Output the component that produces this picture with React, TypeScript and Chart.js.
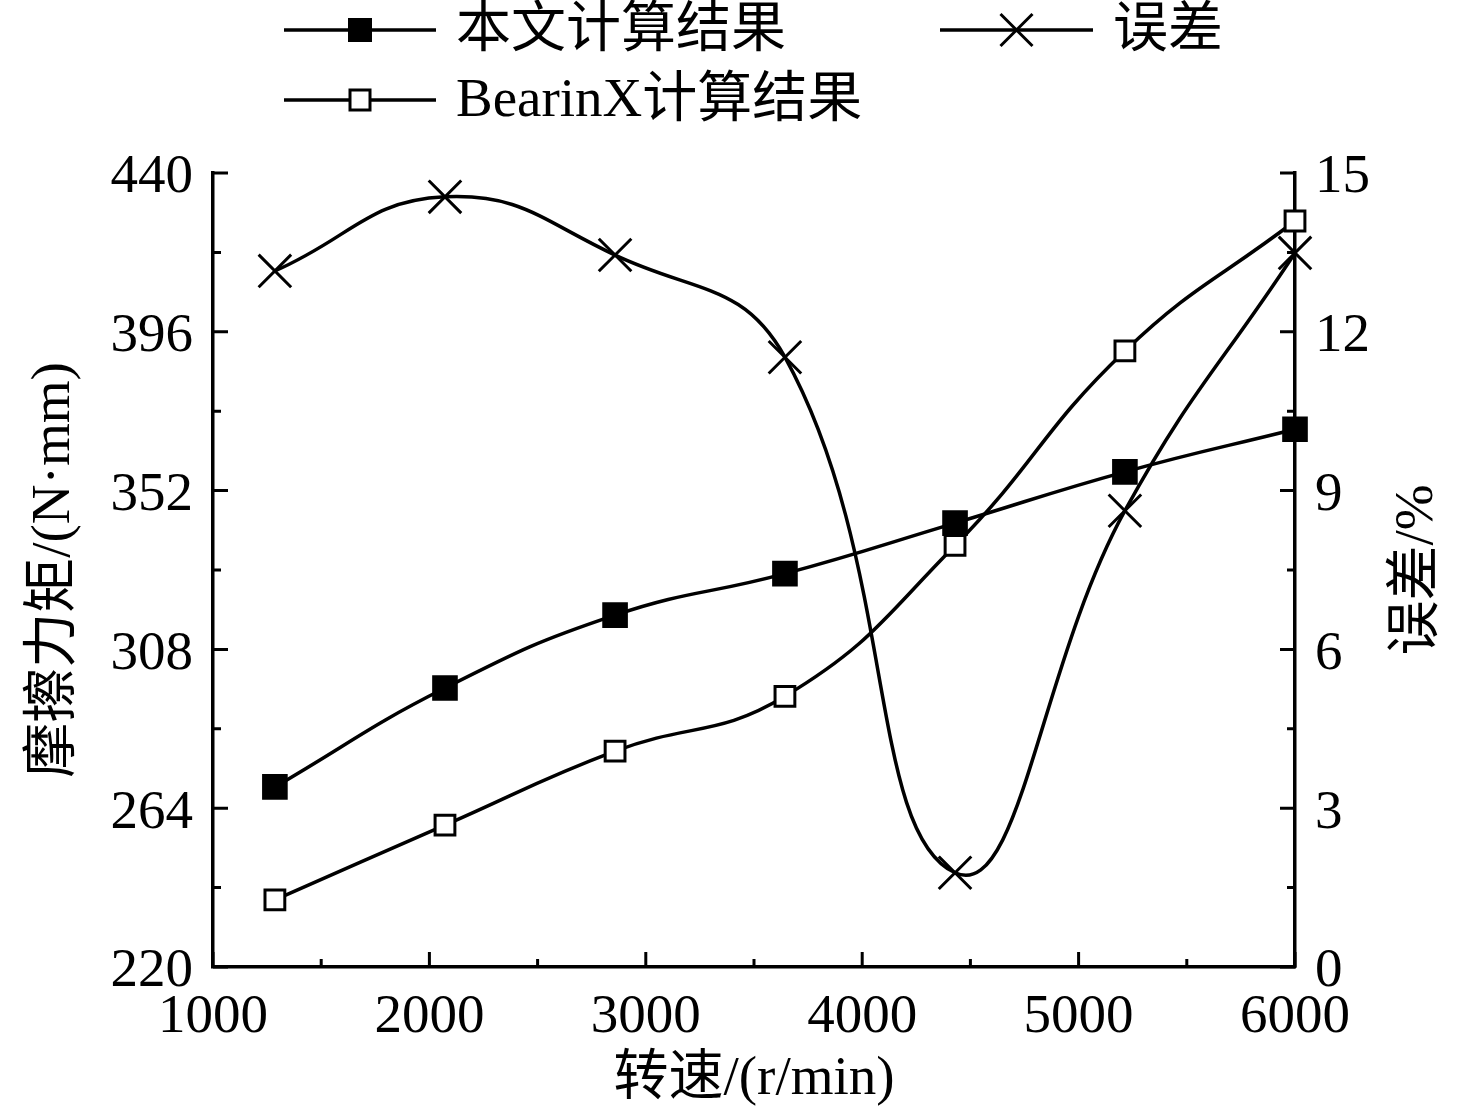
import { useEffect, useRef } from "react"
import { Chart, registerables } from "chart.js"

Chart.register(...registerables)

// rotating speed, r/min
const speeds = [1286, 2072, 2858, 3643, 4429, 5214, 6000]
// friction torque, N·mm
const ourTorque = [269.9, 297.3, 317.5, 329.0, 343.0, 357.2, 369.0]
const bearinxTorque = [238.6, 259.3, 279.8, 295.0, 336.8, 390.7, 426.7]
// relative error, %
const errorPct = [13.15, 14.55, 13.45, 11.52, 1.78, 8.62, 13.49]

const xTickValues = [1000, 2000, 3000, 4000, 5000, 6000]
const leftTickValues = [220, 264, 308, 352, 396, 440]
const rightTickValues = [0, 3, 6, 9, 12, 15]

const seriesNames = ["本文计算结果", "误差", "BearinX计算结果"]

const FONT_FAMILY = '"Liberation Serif", "Times New Roman", "Noto Sans CJK SC", serif'
const FONT_SIZE = 55
const LINE_W = 3.5

const pts = (ys: number[]) => speeds.map((x, i) => ({ x, y: ys[i] }))

function drawMarker(ctx: CanvasRenderingContext2D, kind: string, x: number, y: number) {
  ctx.save()
  ctx.lineWidth = 3
  ctx.strokeStyle = "#000"
  if (kind === "filled") {
    ctx.fillStyle = "#000"
    ctx.fillRect(x - 12, y - 12, 24, 24)
  } else if (kind === "open") {
    ctx.fillStyle = "#fff"
    ctx.fillRect(x - 10, y - 10, 20, 20)
    ctx.strokeRect(x - 10, y - 10, 20, 20)
  } else {
    ctx.beginPath()
    ctx.moveTo(x - 16, y - 16)
    ctx.lineTo(x + 16, y + 16)
    ctx.moveTo(x - 16, y + 16)
    ctx.lineTo(x + 16, y - 16)
    ctx.stroke()
  }
  ctx.restore()
}

// legend at the top: line + marker + label
const legendLayout = [
  { name: seriesNames[0], marker: "filled", x0: 284, x1: 436, y: 30 },
  { name: seriesNames[1], marker: "cross", x0: 940, x1: 1093, y: 30 },
  { name: seriesNames[2], marker: "open", x0: 284, x1: 436, y: 100 },
]

const topLegend = {
  id: "topLegend",
  afterDraw(chart: Chart) {
    const ctx = chart.ctx
    ctx.save()
    ctx.font = `${FONT_SIZE}px ${FONT_FAMILY}`
    ctx.fillStyle = "#000"
    ctx.textBaseline = "middle"
    ctx.textAlign = "left"
    for (const item of legendLayout) {
      ctx.strokeStyle = "#000"
      ctx.lineWidth = LINE_W
      ctx.beginPath()
      ctx.moveTo(item.x0, item.y)
      ctx.lineTo(item.x1, item.y)
      ctx.stroke()
      drawMarker(ctx, item.marker, (item.x0 + item.x1) / 2, item.y)
      ctx.fillStyle = "#000"
      ctx.fillText(item.name, item.x1 + 20, item.y + 2)
    }
    ctx.restore()
  },
}

// ticks pointing into the plot, with a minor tick between majors
const innerTicks = {
  id: "innerTicks",
  afterDraw(chart: Chart) {
    const { ctx, chartArea } = chart
    const major = 15
    const minor = 8
    ctx.save()
    ctx.strokeStyle = "#000"
    ctx.lineWidth = 3
    ctx.beginPath()

    const x = chart.scales.x
    const xv = x.ticks.map((t) => t.value)
    xv.forEach((v, i) => {
      const p = x.getPixelForValue(v)
      ctx.moveTo(p, chartArea.bottom)
      ctx.lineTo(p, chartArea.bottom - major)
      if (i < xv.length - 1) {
        const m = x.getPixelForValue((v + xv[i + 1]) / 2)
        ctx.moveTo(m, chartArea.bottom)
        ctx.lineTo(m, chartArea.bottom - minor)
      }
    })

    for (const id of ["y", "y1"]) {
      const s = chart.scales[id]
      const vals = s.ticks.map((t) => t.value)
      const edge = id === "y" ? chartArea.left : chartArea.right
      const dir = id === "y" ? 1 : -1
      vals.forEach((v, i) => {
        const p = s.getPixelForValue(v)
        ctx.moveTo(edge, p)
        ctx.lineTo(edge + dir * major, p)
        if (i < vals.length - 1) {
          const m = s.getPixelForValue((v + vals[i + 1]) / 2)
          ctx.moveTo(edge, m)
          ctx.lineTo(edge + dir * minor, m)
        }
      })
    }
    ctx.stroke()

    // right axis title, reading bottom to top
    ctx.font = `${FONT_SIZE}px ${FONT_FAMILY}`
    ctx.fillStyle = "#000"
    ctx.textAlign = "center"
    ctx.textBaseline = "middle"
    ctx.translate(1418, (chartArea.top + chartArea.bottom) / 2)
    ctx.rotate(-Math.PI / 2)
    ctx.fillText("误差/%", 0, 0)
    ctx.restore()
  },
}

export default function App() {
  const canvasRef = useRef<HTMLCanvasElement>(null)
  const chartRef = useRef<Chart | null>(null)

  useEffect(() => {
    document.body.style.margin = "0"
    if (!canvasRef.current) return
    if (chartRef.current) chartRef.current.destroy()

    const tickFont = { family: FONT_FAMILY, size: FONT_SIZE }
    const common = {
      borderColor: "#000",
      borderWidth: LINE_W,
      tension: 0.45,
      pointBorderColor: "#000",
      pointBorderWidth: 3,
      clip: false as const,
    }

    chartRef.current = new Chart(canvasRef.current, {
      type: "line",
      data: {
        datasets: [
          {
            ...common,
            label: seriesNames[0],
            data: pts(ourTorque),
            yAxisID: "y",
            pointStyle: "rect",
            pointRadius: 16,
            pointBackgroundColor: "#000",
          },
          {
            ...common,
            label: seriesNames[1],
            data: pts(errorPct),
            yAxisID: "y1",
            pointStyle: "crossRot",
            pointRadius: 23,
          },
          {
            ...common,
            label: seriesNames[2],
            data: pts(bearinxTorque),
            yAxisID: "y",
            pointStyle: "rect",
            pointRadius: 14,
            pointBackgroundColor: "#fff",
          },
        ],
      },
      options: {
        responsive: false,
        animation: false,
        layout: { padding: { top: 173, left: 0, right: 0, bottom: 0 } },
        plugins: {
          legend: { display: false },
          tooltip: { enabled: false },
        },
        scales: {
          x: {
            type: "linear",
            min: 1000,
            max: 6000,
            afterBuildTicks: (s) => {
              s.ticks = xTickValues.map((value) => ({ value }))
            },
            afterFit: (s) => {
              s.height = 150
            },
            grid: { display: false, drawTicks: false },
            border: { display: true, color: "#000", width: LINE_W },
            ticks: {
              color: "#000",
              font: tickFont,
              padding: 18,
              maxRotation: 0,
              autoSkip: false,
              callback: (v) => String(v),
            },
            title: {
              display: true,
              text: "转速/(r/min)",
              color: "#000",
              font: tickFont,
              padding: { top: 0, bottom: 4 },
            },
          },
          y: {
            type: "linear",
            position: "left",
            min: 220,
            max: 440,
            afterBuildTicks: (s) => {
              s.ticks = leftTickValues.map((value) => ({ value }))
            },
            afterFit: (s) => {
              s.width = 213
            },
            grid: { display: false, drawTicks: false },
            border: { display: true, color: "#000", width: LINE_W },
            ticks: {
              color: "#000",
              font: tickFont,
              padding: 20,
              labelOffset: 5,
              autoSkip: false,
              callback: (v) => String(v),
            },
            title: {
              display: true,
              text: "摩擦力矩/(N·mm)",
              color: "#000",
              font: tickFont,
              padding: { top: 22, bottom: 0 },
            },
          },
          y1: {
            type: "linear",
            position: "right",
            min: 0,
            max: 15,
            afterBuildTicks: (s) => {
              s.ticks = rightTickValues.map((value) => ({ value }))
            },
            afterFit: (s) => {
              s.width = 181
            },
            grid: { display: false, drawTicks: false },
            border: { display: true, color: "#000", width: LINE_W },
            ticks: {
              color: "#000",
              font: tickFont,
              padding: 20,
              labelOffset: 5,
              autoSkip: false,
              callback: (v) => String(v),
            },
          },
        },
      },
      plugins: [innerTicks, topLegend],
    })

    return () => {
      if (chartRef.current) {
        chartRef.current.destroy()
        chartRef.current = null
      }
    }
  }, [])

  return (
    <div style={{ width: 1476, height: 1117, background: "#fff" }}>
      <canvas ref={canvasRef} width={1476} height={1117} />
    </div>
  )
}
